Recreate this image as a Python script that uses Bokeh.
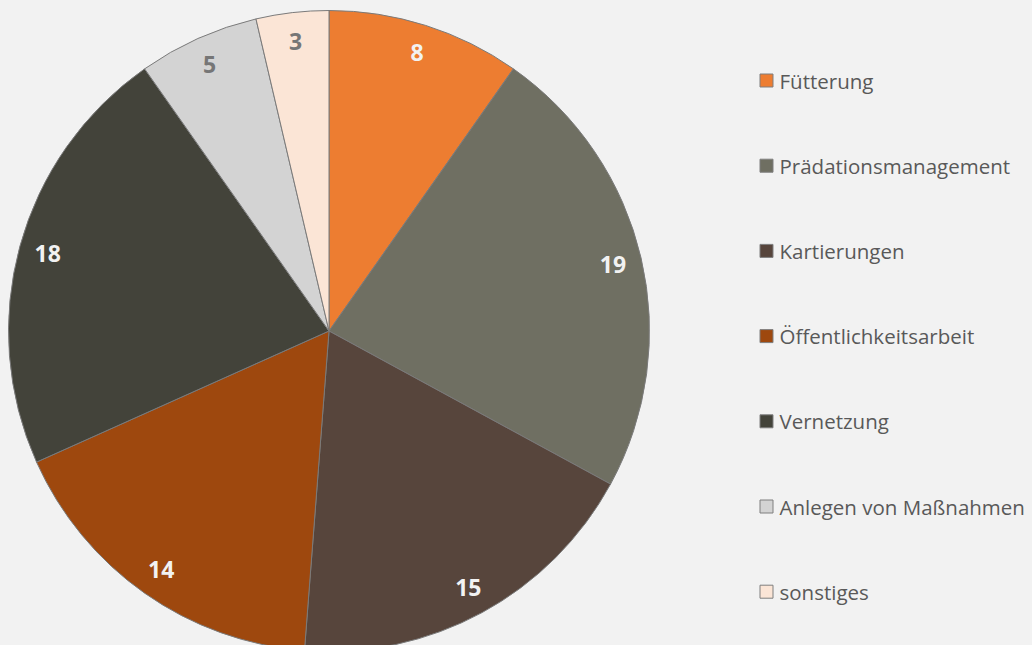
import math
from bokeh.plotting import figure
from bokeh.models import Range1d, ColumnDataSource
from bokeh.core.properties import value
from bokeh.embed import file_html
from bokeh.resources import INLINE

categories = ["Fütterung", "Prädationsmanagement", "Kartierungen", "Öffentlichkeitsarbeit",
              "Vernetzung", "Anlegen von Maßnahmen", "sonstiges"]
counts = [8, 19, 15, 14, 18, 5, 3]
colors = ["#ED7D31", "#6F6F62", "#57453C", "#9E480E", "#43433A", "#D3D3D3", "#FBE5D6"]
label_colors = ["#F2F2F2", "#F2F2F2", "#F2F2F2", "#F2F2F2", "#F2F2F2", "#767676", "#767676"]

W, H = 1032, 645
# data units == screen pixels; y is negated
p = figure(width=W, height=H, output_backend="svg", toolbar_location=None,
           x_range=Range1d(0, W), y_range=Range1d(-H, 0),
           min_border=0, background_fill_color="#F2F2F2", border_fill_color="#F2F2F2")
p.axis.visible = False
p.grid.visible = False
p.outline_line_color = None

cx, cy, r = 328.5, -330.5, 320.5
total = sum(counts)
starts, ends, lx, ly = [], [], [], []
cum = 0
for c in counts:
    a0 = math.pi / 2 - 2 * math.pi * cum / total
    a1 = math.pi / 2 - 2 * math.pi * (cum + c) / total
    starts.append(a0)
    ends.append(a1)
    mid = (a0 + a1) / 2
    lx.append(cx + 0.91 * r * math.cos(mid))
    ly.append(cy + 0.91 * r * math.sin(mid))
    cum += c

src = ColumnDataSource(dict(start=starts, end=ends, color=colors, x=lx, y=ly,
                            txt=[str(c) for c in counts], tc=label_colors))
p.wedge(x=cx, y=cy, radius=r, start_angle="start", end_angle="end", direction="clock",
        fill_color="color", line_color="#7A7A7A", line_width=1, source=src)
p.text(x="x", y="y", text="txt", text_color="tc", text_font=value("Open Sans"),
       text_font_style="bold", text_font_size="23px", text_align="center",
       text_baseline="middle", source=src)

# legend
ys = [-(80 + i * 85.2) for i in range(len(categories))]
xs = [766] * len(categories)
lsrc = ColumnDataSource(dict(x=xs, y=ys, color=colors, name=categories,
                             tx=[779] * len(categories)))
p.rect(x="x", y="y", width=13, height=13, fill_color="color", line_color="#7F7F7F",
       line_width=1, source=lsrc)
p.text(x="tx", y="y", text="name", text_color="#595959", text_font=value("Open Sans"),
       text_font_size="20.5px", text_align="left", text_baseline="middle", source=lsrc)

html = file_html(p, INLINE)
html = html.replace("<head>", "<head><style>body{background:#F2F2F2;}</style>", 1)
open("out.html", "w").write(html)
